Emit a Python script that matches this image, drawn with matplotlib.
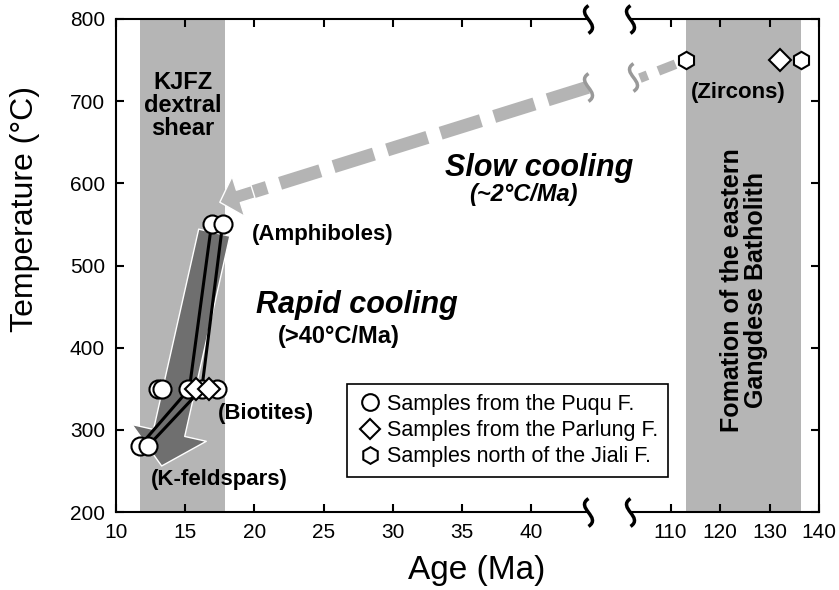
import matplotlib.pyplot as plt
from matplotlib.lines import Line2D
from matplotlib.patches import FancyArrowPatch
from matplotlib.path import Path

plt.rcParams['font.family'] = ['Liberation Sans', 'DejaVu Sans']

# ages (Ma) and closure temperatures (C)
amph_age = [16.9, 17.7]
amph_temp = [550, 550]
bio_circ_age = [13.0, 13.3, 15.2, 16.2, 17.3]
bio_circ_temp = [350, 350, 350, 350, 350]
bio_diam_age = [15.8, 16.7]
bio_diam_temp = [350, 350]
kfs_age = [11.7, 12.3]
kfs_temp = [280, 280]
zr_hex_age = [113.2, 136.3]
zr_hex_temp = [750, 750]
zr_diam_age = [132.2]
zr_diam_temp = [750]

# cooling paths (amphibole -> biotite -> K-feldspar)
path1_age = [16.9, 15.3, 11.7]
path2_age = [17.7, 16.2, 12.3]
path_temp = [550, 350, 280]

shear_band = (11.7, 17.9)
batholith_band = (113.1, 136.4)

band_col = '#b5b5b5'
arrow_col = '#b4b4b4'

fig = plt.figure(figsize=(8.39, 5.90), dpi=100)
ax1 = fig.add_axes([116/839, 78/590, 472/839, 493/590])
ax2 = fig.add_axes([630/839, 78/590, 189/839, 493/590])
ax2.patch.set_visible(False)  # don't hide text spilling over from ax1

for ax in (ax1, ax2):
    ax.set_ylim(200, 800)
    for s in ax.spines.values():
        s.set_linewidth(1.5)
ax1.set_xlim(10, 44.1)
ax2.set_xlim(101.8, 140)
ax1.spines['right'].set_visible(False)
ax2.spines['left'].set_visible(False)

ax1.set_xticks([10, 15, 20, 25, 30, 35, 40])
ax1.set_yticks([200, 300, 400, 500, 600, 700, 800])
ax1.tick_params(direction='in', top=True, right=False, length=6, width=1.5,
                labelsize=15, pad=8)
ax2.set_xticks([110, 120, 130, 140])
ax2.set_yticks([200, 300, 400, 500, 600, 700, 800])
ax2.tick_params(direction='in', top=True, left=False, right=True, labelleft=False,
                length=6, width=1.5, labelsize=15, pad=8)

# shaded intervals
ax1.axvspan(*shear_band, color=band_col, lw=0, zorder=0)
ax2.axvspan(*batholith_band, color=band_col, lw=0, zorder=0)

# rapid cooling arrow
rapid = FancyArrowPatch((17.1, 540), (13.3, 256),
                        arrowstyle='simple,head_length=1.22,head_width=2.74,tail_width=1.15',
                        mutation_scale=20, shrinkA=0, shrinkB=0,
                        fc='#6f6f6f', ec='white', lw=1, zorder=2)
ax1.add_patch(rapid)

# slow cooling dashed arrow
ax1.plot([44.1, 19.9], [717, 589.7], color=arrow_col, lw=9.5, dashes=(3.2, 1.05),
         clip_on=False, zorder=2)
ax1.annotate('', xy=(17.5, 577), xytext=(19.9, 589.7),
             arrowprops=dict(arrowstyle='simple,head_length=0.7,head_width=1.5,tail_width=0.47',
                             mutation_scale=20, shrinkA=0, shrinkB=0,
                             fc=arrow_col, ec='white', lw=1), zorder=2)
ax2.plot([111.0, 103.8], [745, 728], color=arrow_col, lw=7, dashes=(1.9, 1.2),
         clip_on=False, zorder=2)

# axis break squiggles
squig = Path([(0, -1), (1.0, -0.35), (-1.0, 0.35), (0, 1)],
             [Path.MOVETO, Path.CURVE4, Path.CURVE4, Path.CURVE4])
for ax, xb in ((ax1, 1), (ax2, 0)):
    ax.plot([xb, xb], [0, 1], transform=ax.transAxes, ls='none', marker=squig,
            ms=20, mfc='none', mec='k', mew=2.5, clip_on=False, zorder=6)
ax1.plot([44.1], [717], ls='none', marker=squig, ms=20, mfc='none', mec='#999999',
         mew=2.5, clip_on=False, zorder=3)
ax2.plot([102.4], [729], ls='none', marker=squig, ms=20, mfc='none', mec='#999999',
         mew=2.5, clip_on=False, zorder=3)

# cooling paths
ax1.plot(path1_age, path_temp, color='k', lw=2.2, zorder=3)
ax1.plot(path2_age, path_temp, color='k', lw=2.2, zorder=3)

mk = dict(ls='none', mfc='white', mec='k', mew=1.5, zorder=4, clip_on=False)
ax1.plot(amph_age, amph_temp, marker='o', ms=13, **mk)
ax1.plot(bio_circ_age, bio_circ_temp, marker='o', ms=13, **mk)
ax1.plot(bio_diam_age, bio_diam_temp, marker='D', ms=11, **mk)
ax1.plot(kfs_age, kfs_temp, marker='o', ms=13, **mk)
ax2.plot(zr_hex_age, zr_hex_temp, marker='h', ms=12.5, **mk)
ax2.plot(zr_diam_age, zr_diam_temp, marker='D', ms=11, **mk)

# annotations
bold = dict(fontweight='bold', ha='center', va='center')
ax1.text(14.84, 695, 'KJFZ\ndextral\nshear', fontsize=17, linespacing=1.0, **bold)
ax1.text(24.9, 538, '(Amphiboles)', fontsize=16, **bold)
ax1.text(20.8, 320, '(Biotites)', fontsize=16, **bold)
ax1.text(17.5, 239, '(K-feldspars)', fontsize=16, **bold)
ax1.text(27.4, 452, 'Rapid cooling', fontsize=22, style='italic', **bold)
ax1.text(26.1, 413, '(>40°C/Ma)', fontsize=17, **bold)
ax1.text(40.6, 619, 'Slow cooling', fontsize=22, style='italic', **bold)
ax1.text(39.4, 586, '(~2°C/Ma)', fontsize=17, style='italic', **bold)
ax2.text(123.6, 711, '(Zircons)', fontsize=16, **bold)
ax2.text(124.85, 470, 'Fomation of the eastern\nGangdese Batholith', fontsize=18,
         rotation=90, linespacing=1.0, **bold)

fig.text(477/839, 1 - 570/590, 'Age (Ma)', fontsize=24, ha='center', va='center')
fig.text(25/839, 1 - 209/590, 'Temperature (°C)', fontsize=23, rotation=90,
         ha='center', va='center')

handles = [
    Line2D([], [], marker='o', ls='none', mfc='white', mec='k', mew=1.5, ms=12),
    Line2D([], [], marker='D', ls='none', mfc='white', mec='k', mew=1.5, ms=10),
    Line2D([], [], marker='h', ls='none', mfc='white', mec='k', mew=1.5, ms=12),
]
labels = ['Samples from the Puqu F.', 'Samples from the Parlung F.',
          'Samples north of the Jiali F.']
leg = fig.legend(handles, labels, loc='upper left', bbox_to_anchor=(347/839, 1 - 384/590),
                 fancybox=False, edgecolor='k', framealpha=1, fontsize=15.5,
                 handletextpad=0.2, borderpad=0.45, labelspacing=0.25, handlelength=1.2,
                 borderaxespad=0)
leg.get_frame().set_linewidth(1.2)

fig.savefig('out.png', dpi=100)
